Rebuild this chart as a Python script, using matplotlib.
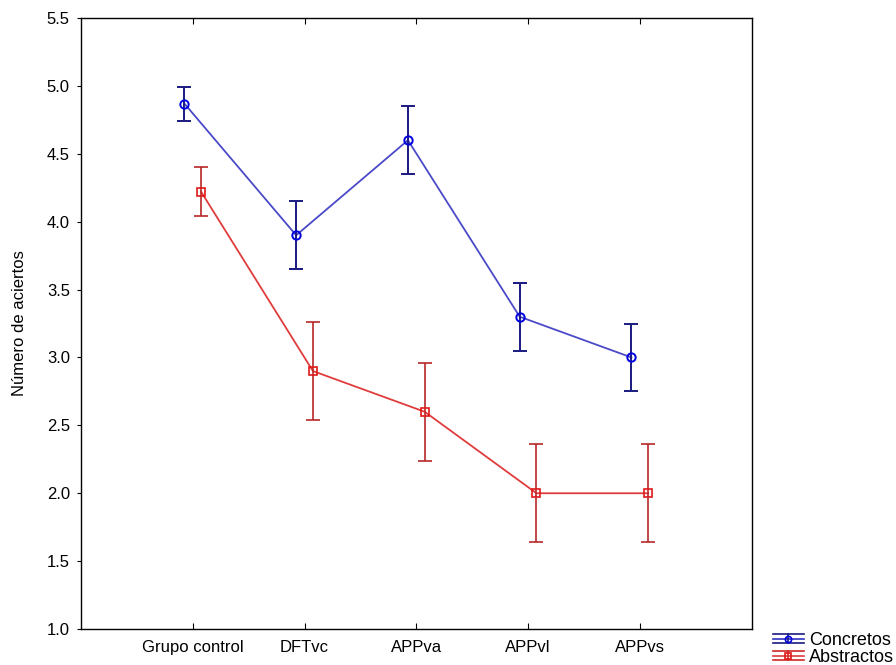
import matplotlib.pyplot as plt
from matplotlib.legend_handler import HandlerBase
from matplotlib.lines import Line2D
import numpy as np

plt.rcParams['font.family'] = ['Liberation Sans', 'DejaVu Sans']

groups = ['Grupo control', 'DFTvc', 'APPva', 'APPvl', 'APPvs']
concretos = [4.87, 3.90, 4.60, 3.30, 3.00]
concretos_err = [0.125, 0.25, 0.25, 0.25, 0.25]
abstractos = [4.22, 2.90, 2.60, 2.00, 2.00]
abstractos_err = [0.18, 0.36, 0.36, 0.36, 0.36]


# legend symbol like the original: line + vertical bar + wide caps + marker
class ErrSymbol(HandlerBase):
    def __init__(self, line_c, bar_c, marker, mec):
        super().__init__()
        self.line_c, self.bar_c, self.marker, self.mec = line_c, bar_c, marker, mec

    def create_artists(self, legend, orig, xd, yd, w, h, fs, trans):
        cy = yd + h / 2
        cx = xd + w / 2
        dy = h * 0.36
        arts = [
            Line2D([xd, xd + w], [cy, cy], color=self.line_c, lw=1.2),
            Line2D([xd, xd + w], [cy + dy, cy + dy], color=self.bar_c, lw=1.2),
            Line2D([xd, xd + w], [cy - dy, cy - dy], color=self.bar_c, lw=1.2),
            Line2D([cx, cx], [cy - dy, cy + dy], color=self.bar_c, lw=1.2),
            Line2D([cx], [cy], marker=self.marker, ms=4.5, mfc='none',
                   mec=self.mec, mew=1.2, ls='none'),
        ]
        for a in arts:
            a.set_transform(trans)
        return arts


fig = plt.figure(figsize=(8.96, 6.65), dpi=100)
ax = fig.add_axes([0.0904, 0.0541, 0.7485, 0.9188])

x = np.arange(len(groups))
off = 0.075

ax.plot(x - off, concretos, color='#4a4ac8', lw=1.3, zorder=2)
h1 = ax.errorbar(x - off, concretos, yerr=concretos_err, fmt='o', color='#1a1a80',
                 mfc='none', mec='#0000e0', mew=1.4, ms=6, elinewidth=1.4,
                 capsize=5, capthick=1.4, zorder=3, label='Concretos')
ax.plot(x + off, abstractos, color='#e03c3c', lw=1.3, zorder=2)
h2 = ax.errorbar(x + off, abstractos, yerr=abstractos_err, fmt='s', color='#b82828',
                 mfc='none', mec='#e01818', mew=1.2, ms=5.5, elinewidth=1.2,
                 capsize=5, capthick=1.2, zorder=3, label='Abstractos')

ax.set_xlim(-1, len(groups))
ax.set_ylim(1.0, 5.5)
ax.set_yticks(np.arange(1.0, 5.51, 0.5))
ax.set_yticklabels([f'{v:.1f}' for v in np.arange(1.0, 5.51, 0.5)])
ax.set_xticks(x)
ax.set_xticklabels(groups)
ax.tick_params(axis='x', direction='in', top=True, length=4, labelsize=12, pad=8)
ax.tick_params(axis='y', direction='out', length=3, labelsize=12, pad=5)
ax.set_ylabel('Número de aciertos', fontsize=12, labelpad=14)
for s in ax.spines.values():
    s.set_linewidth(1.0)

fig.legend(handles=[h1, h2], loc='lower right', bbox_to_anchor=(1.0, -0.004),
           frameon=False, fontsize=13, handlelength=1.7, handletextpad=0.3,
           labelspacing=0.0, borderaxespad=0.0, borderpad=0.1,
           handler_map={h1: ErrSymbol('#3030c0', '#1a1a80', 'o', '#0000e0'),
                        h2: ErrSymbol('#e03c3c', '#d02828', 's', '#e01818')})

fig.savefig('out.png', dpi=100)
